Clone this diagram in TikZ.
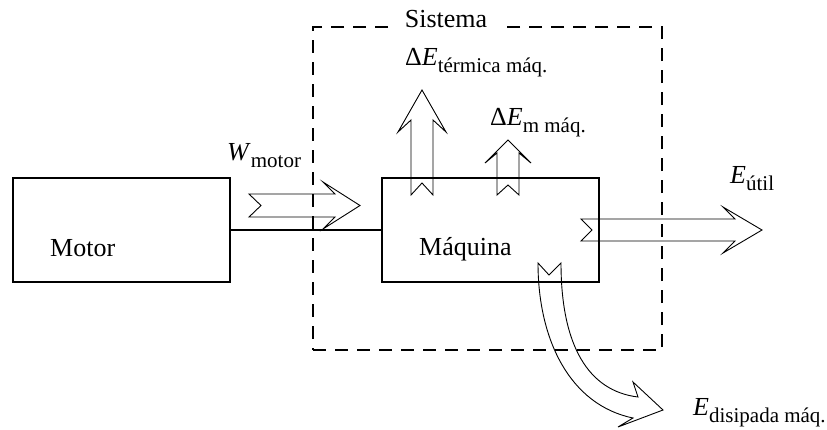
\documentclass[tikz,border=0pt]{standalone}
\usepackage{fontspec}
\setmainfont{Liberation Serif}
\newcommand{\subtxt}[1]{\raisebox{-7pt}{\fontsize{21}{22}\selectfont #1}}
\begin{document}
\begin{tikzpicture}[x=1pt, y=-1pt, every node/.style={font=\fontsize{26}{30}\selectfont, inner sep=0pt}]
  \tikzstyle{caja}=[draw, line width=2.4pt, minimum width=217pt, minimum height=104pt]
  \tikzstyle{frontera}=[draw, line width=2.6pt, dash pattern=on 13pt off 9pt]
  \tikzstyle{flecha}=[draw, line width=0.9pt, line join=miter]
  \useasboundingbox (0,0) rectangle (827,429);
  % sistema
  \node[frontera, minimum width=349pt, minimum height=323pt] (sistema) at (487.5,188.5) {};
  \node[fill=white, inner xsep=14pt, inner ysep=2pt, anchor=base] (etiqsis) at (446,27) {Sistema};
  % cajas
  \node[caja] (motor)   at (121.5,230) {};
  \node[caja] (maquina) at (490.5,230) {};
  \draw[line width=2pt] (motor) -- (maquina);
  \node[anchor=base west] (txtmotor)   at (50,256)  {Motor};
  \node[anchor=base west] (txtmaquina) at (419,255) {Máquina};
  % flujos de energia
  \draw[flecha] (249,194) -- (335,194) -- (323,182) -- (360,205.5) -- (323,229)
    -- (335,217) -- (249,217) -- (261,205.5) -- cycle;
  \draw[flecha] (411,195) -- (411,120) -- (398,132) -- (422,90) -- (446,132)
    -- (433,120) -- (433,195) -- (422,183) -- cycle;
  \draw[flecha] (497,195) -- (497,153) -- (485,163) -- (508,140) -- (531,163)
    -- (519,153) -- (519,195) -- (508,185) -- cycle;
  \draw[flecha] (581,219) -- (735,219) -- (723,207) -- (762,230) -- (723,253)
    -- (735,241) -- (581,241) -- (592,230) -- cycle;
  \draw[flecha] (538,263) .. controls (538,340) and (570,405) .. (633,418)
    -- (618,427) -- (663,410) -- (633,382) -- (638,397)
    .. controls (588,391) and (561,345) .. (561,263) -- (549,275) -- cycle;
  % etiquetas
  \node[anchor=base west] (wmotor)  at (227,160) {\textit{W}\subtxt{motor}};
  \node[anchor=base west] (determ)  at (405,65)  {Δ\textit{E}\subtxt{térmica máq.}};
  \node[anchor=base west] (demec)   at (490,125) {Δ\textit{E}\subtxt{m máq.}};
  \node[anchor=base west] (eutil)   at (730,183) {\textit{E}\subtxt{útil}};
  \node[anchor=base west] (edisip)  at (693,415) {\textit{E}\subtxt{disipada máq.}};
\end{tikzpicture}
\end{document}
